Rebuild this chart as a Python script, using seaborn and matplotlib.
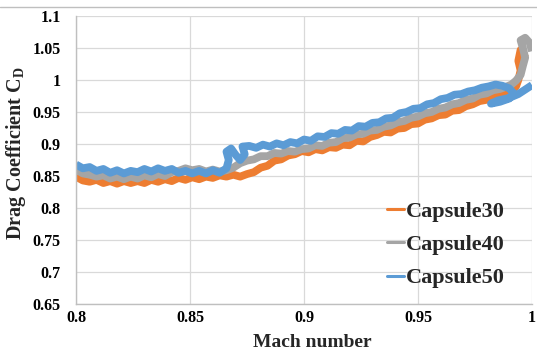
import matplotlib
matplotlib.use("Agg")
import matplotlib.pyplot as plt
from matplotlib.lines import Line2D
import seaborn as sns
import pandas as pd

# Drag coefficient traces versus Mach number for the three capsule cases
mach_30 = [0.800, 0.803, 0.806, 0.809, 0.812, 0.815, 0.818, 0.821, 0.824, 0.827,
           0.830, 0.833, 0.836, 0.839, 0.842, 0.845, 0.848, 0.851, 0.854, 0.857,
           0.860, 0.863, 0.866, 0.869, 0.872, 0.875, 0.878, 0.881, 0.884, 0.887,
           0.890, 0.893, 0.896, 0.899, 0.902, 0.905, 0.908, 0.911, 0.914, 0.917,
           0.920, 0.923, 0.926, 0.929, 0.932, 0.935, 0.938, 0.941, 0.944, 0.947,
           0.950, 0.953, 0.956, 0.959, 0.962, 0.965, 0.968, 0.971, 0.974, 0.977,
           0.980, 0.983, 0.986, 0.989, 0.991, 0.993, 0.994, 0.995, 0.994, 0.995,
           0.996, 0.997]
cd_30 = [0.849, 0.843, 0.841, 0.844, 0.839, 0.842, 0.838, 0.842, 0.839, 0.842,
         0.839, 0.844, 0.841, 0.845, 0.842, 0.847, 0.844, 0.848, 0.845, 0.849,
         0.847, 0.851, 0.849, 0.852, 0.849, 0.853, 0.856, 0.863, 0.866, 0.874,
         0.876, 0.882, 0.884, 0.889, 0.887, 0.892, 0.890, 0.895, 0.894, 0.899,
         0.898, 0.905, 0.904, 0.911, 0.914, 0.919, 0.918, 0.924, 0.925, 0.931,
         0.932, 0.938, 0.940, 0.945, 0.946, 0.952, 0.953, 0.959, 0.962, 0.967,
         0.969, 0.974, 0.976, 0.981, 0.983, 0.990, 1.000, 1.015, 1.030, 1.047,
         1.043, 1.035]

mach_40 = [0.800, 0.803, 0.806, 0.809, 0.812, 0.815, 0.818, 0.821, 0.824, 0.827,
           0.830, 0.833, 0.836, 0.839, 0.842, 0.845, 0.848, 0.851, 0.854, 0.857,
           0.860, 0.863, 0.866, 0.869, 0.872, 0.875, 0.878, 0.881, 0.884, 0.887,
           0.890, 0.893, 0.896, 0.899, 0.902, 0.905, 0.908, 0.911, 0.914, 0.917,
           0.920, 0.923, 0.926, 0.929, 0.932, 0.935, 0.938, 0.941, 0.944, 0.947,
           0.950, 0.953, 0.956, 0.959, 0.962, 0.965, 0.968, 0.971, 0.974, 0.977,
           0.980, 0.983, 0.986, 0.989, 0.991, 0.993, 0.995, 0.996, 0.997, 0.996,
           0.995, 0.997, 0.999, 1.000]
cd_40 = [0.860, 0.854, 0.852, 0.849, 0.851, 0.846, 0.849, 0.845, 0.849, 0.846,
         0.851, 0.848, 0.853, 0.850, 0.856, 0.858, 0.862, 0.859, 0.861, 0.857,
         0.860, 0.857, 0.859, 0.863, 0.870, 0.874, 0.876, 0.881, 0.881, 0.886,
         0.885, 0.889, 0.888, 0.892, 0.893, 0.898, 0.897, 0.902, 0.903, 0.909,
         0.910, 0.915, 0.916, 0.921, 0.922, 0.927, 0.929, 0.934, 0.936, 0.941,
         0.943, 0.948, 0.950, 0.955, 0.957, 0.962, 0.964, 0.969, 0.971, 0.977,
         0.979, 0.984, 0.986, 0.990, 0.993, 0.999, 1.008, 1.022, 1.035, 1.050,
         1.062, 1.066, 1.058, 1.045]

mach_50 = [0.800, 0.803, 0.806, 0.809, 0.812, 0.815, 0.818, 0.821, 0.824, 0.827,
           0.830, 0.833, 0.836, 0.839, 0.842, 0.845, 0.848, 0.851, 0.854, 0.857,
           0.860, 0.863, 0.866, 0.867, 0.866, 0.868, 0.870, 0.872, 0.874, 0.873,
           0.876, 0.879, 0.882, 0.885, 0.888, 0.891, 0.894, 0.897, 0.900, 0.903,
           0.906, 0.909, 0.912, 0.915, 0.918, 0.921, 0.924, 0.927, 0.930, 0.933,
           0.936, 0.939, 0.942, 0.945, 0.948, 0.951, 0.954, 0.957, 0.960, 0.963,
           0.966, 0.969, 0.972, 0.975, 0.978, 0.981, 0.984, 0.987, 0.990, 0.992,
           0.990, 0.986, 0.982, 0.985, 0.990, 0.994, 0.997, 1.000]
cd_50 = [0.868, 0.862, 0.864, 0.858, 0.861, 0.855, 0.859, 0.854, 0.858, 0.856,
         0.861, 0.857, 0.862, 0.858, 0.861, 0.855, 0.858, 0.854, 0.858, 0.854,
         0.859, 0.855, 0.862, 0.875, 0.888, 0.893, 0.883, 0.875, 0.884, 0.896,
         0.897, 0.894, 0.899, 0.896, 0.901, 0.898, 0.903, 0.901, 0.907, 0.905,
         0.912, 0.911, 0.917, 0.916, 0.922, 0.921, 0.928, 0.927, 0.933, 0.934,
         0.940, 0.941, 0.948, 0.950, 0.955, 0.956, 0.962, 0.964, 0.970, 0.972,
         0.977, 0.978, 0.982, 0.984, 0.988, 0.990, 0.993, 0.991, 0.987, 0.979,
         0.971, 0.966, 0.963, 0.968, 0.972, 0.978, 0.985, 0.992]

series_names = ["Capsule30", "Capsule40", "Capsule50"]
series_colors = ["#ED7D31", "#A5A5A5", "#5B9BD5"]
x_ticks = [0.8, 0.85, 0.9, 0.95, 1.0]
x_tick_labels = ["0.8", "0.85", "0.9", "0.95", "1"]
y_ticks = [0.65, 0.7, 0.75, 0.8, 0.85, 0.9, 0.95, 1.0, 1.05, 1.1]
y_tick_labels = ["0.65", "0.7", "0.75", "0.8", "0.85", "0.9", "0.95", "1", "1.05", "1.1"]

frames = []
for name, m, cd in zip(series_names, [mach_30, mach_40, mach_50], [cd_30, cd_40, cd_50]):
    frames.append(pd.DataFrame({"Mach": m, "CD": cd, "case": name, "order": range(len(m))}))
df = pd.concat(frames, ignore_index=True)

sns.set_theme(style="whitegrid")
serif = "Liberation Serif"
plt.rcParams["font.family"] = [serif, "DejaVu Serif"]
plt.rcParams["mathtext.fontset"] = "custom"
plt.rcParams["mathtext.rm"] = "Liberation Serif:bold"
plt.rcParams["mathtext.default"] = "rm"

fig = plt.figure(figsize=(5.37, 3.58), dpi=100)
ax = fig.add_axes([76 / 537, 1 - 304 / 358, 456 / 537, 288 / 358])
ax.set_facecolor("white")

for name, color in zip(series_names, series_colors):
    sub = df[df["case"] == name]
    sns.lineplot(data=sub, x="Mach", y="CD", sort=False, estimator=None,
                 color=color, lw=5.6, ax=ax, label=name,
                 solid_joinstyle="round", solid_capstyle="butt")

ax.set_xlim(0.8, 1.0)
ax.set_ylim(0.65, 1.1)
ax.set_xticks(x_ticks)
ax.set_xticklabels(x_tick_labels)
ax.set_yticks(y_ticks)
ax.set_yticklabels(y_tick_labels)
ax.grid(True, color="#D9D9D9", lw=0.9)
ax.tick_params(axis="both", length=0, labelsize=11.5, colors="black")
ax.tick_params(axis="y", pad=11)
ax.tick_params(axis="x", pad=4.5)
for lbl in ax.get_xticklabels() + ax.get_yticklabels():
    lbl.set_fontweight("bold")
    lbl.set_family(serif)

for side in ["top", "right"]:
    ax.spines[side].set_visible(False)
for side in ["left", "bottom"]:
    ax.spines[side].set_color("#BFBFBF")
    ax.spines[side].set_linewidth(1.0)

ax.set_xlabel("Mach number", fontsize=14, fontweight="bold", family=serif)
ax.set_ylabel("Drag Coefficient C$_{D}$", fontsize=14.5, fontweight="bold", family=serif)
ax.xaxis.set_label_coords(0.5175, -0.105)
ax.yaxis.set_label_coords(-0.105, 0.524)

handles = [Line2D([0], [0], color=c, lw=2.2) for c in series_colors]
leg = ax.legend(handles, series_names, frameon=False, loc="upper left",
                bbox_to_anchor=(387 / 537, 1 - 201 / 358), bbox_transform=fig.transFigure,
                borderaxespad=0, borderpad=0, handlelength=0.75, handletextpad=0.1,
                labelspacing=0.58,
                prop={"family": serif, "weight": "bold", "size": 16})

fig.add_artist(Line2D([0, 1], [1 - 7 / 358, 1 - 7 / 358], color="#BFBFBF", lw=1.0))

fig.savefig("out.png", dpi=100)
